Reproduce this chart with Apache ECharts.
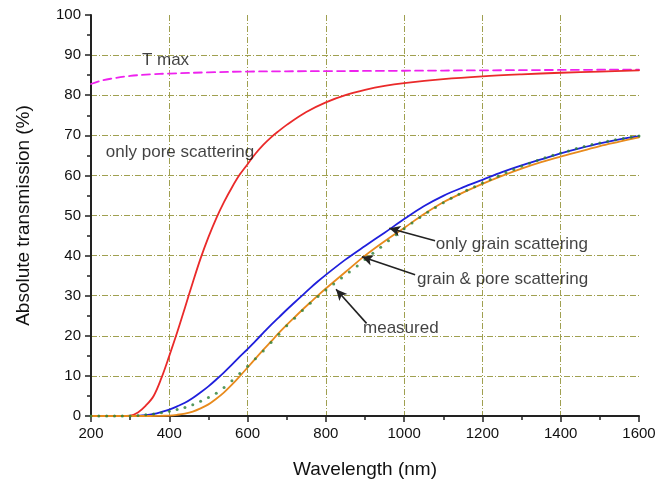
<!DOCTYPE html>
<html>
<head>
<meta charset="utf-8">
<script src="https://cdn.jsdelivr.net/npm/echarts@6/dist/echarts.min.js"></script>
<style>
html,body{margin:0;padding:0;background:#fff;}
#chart{width:672px;height:483px;}
</style>
</head>
<body>
<div id="chart"></div>
<script>
// ---- data ----
const xTicks = [200, 400, 600, 800, 1000, 1200, 1400, 1600];
const yTicks = [0, 10, 20, 30, 40, 50, 60, 70, 80, 90, 100];

const tmaxX = [200, 225, 250, 300, 350, 400, 500, 600, 800, 1000, 1200, 1400, 1600];
const tmaxY = [82.8, 83.6, 84.1, 84.8, 85.2, 85.4, 85.7, 85.9, 86.0, 86.1, 86.2, 86.3, 86.4];

const poreX = [200, 250, 280, 300, 320, 340, 360, 380, 400, 420, 440, 460, 480, 500, 520, 540, 560, 580, 600, 620, 640, 660, 680, 700, 750, 800, 850, 900, 950, 1000, 1100, 1200, 1300, 1400, 1500, 1600];
const poreY = [0, 0, 0, 0.1, 0.9, 2.6, 5.0, 9.5, 15.0, 20.8, 27.0, 33.3, 39.3, 44.6, 49.3, 53.4, 57.0, 60.2, 62.8, 65.4, 67.6, 69.5, 71.1, 72.6, 75.8, 78.2, 80.0, 81.3, 82.3, 83.0, 84.0, 84.7, 85.2, 85.6, 85.9, 86.2];

const grainX = [200, 250, 300, 320, 340, 360, 380, 400, 420, 440, 460, 480, 500, 520, 540, 560, 580, 600, 620, 640, 660, 680, 700, 720, 740, 760, 780, 800, 850, 900, 950, 1000, 1050, 1100, 1150, 1200, 1250, 1300, 1350, 1400, 1450, 1500, 1550, 1600];
const grainY = [0, 0, 0, 0.05, 0.2, 0.5, 1.0, 1.6, 2.4, 3.3, 4.5, 5.9, 7.4, 9.1, 10.9, 12.8, 14.8, 16.7, 18.7, 20.7, 22.7, 24.6, 26.5, 28.3, 30.1, 31.9, 33.6, 35.2, 39.0, 42.4, 45.7, 49.1, 52.3, 54.9, 57.0, 58.9, 60.8, 62.5, 64.0, 65.5, 66.8, 68.0, 69.0, 69.8];

const bothX = [200, 250, 300, 350, 380, 400, 420, 440, 460, 480, 500, 520, 540, 560, 580, 600, 620, 640, 660, 680, 700, 720, 740, 760, 780, 800, 850, 900, 950, 1000, 1050, 1100, 1150, 1200, 1250, 1300, 1350, 1400, 1450, 1500, 1550, 1600];
const bothY = [0, 0, 0, 0, 0.05, 0.1, 0.3, 0.6, 1.1, 1.9, 2.9, 4.3, 5.9, 7.8, 9.9, 12.1, 14.3, 16.5, 18.6, 20.7, 22.7, 24.6, 26.5, 28.3, 30.1, 31.8, 35.9, 40.0, 43.6, 46.9, 50.3, 53.3, 55.7, 57.9, 59.9, 61.7, 63.3, 64.7, 66.0, 67.3, 68.4, 69.5];

const measX = [200, 220, 240, 260, 280, 300, 320, 340, 360, 380, 400, 420, 440, 460, 480, 500, 520, 540, 560, 580, 600, 620, 640, 660, 680, 700, 720, 740, 760, 780, 800, 820, 840, 860, 880, 900, 920, 940, 960, 980, 1000, 1020, 1040, 1060, 1080, 1100, 1120, 1140, 1160, 1180, 1200, 1220, 1240, 1260, 1280, 1300, 1320, 1340, 1360, 1380, 1400, 1420, 1440, 1460, 1480, 1500, 1520, 1540, 1560, 1580, 1600];
const measY = [0, 0, 0, 0, 0, 0, 0.1, 0.3, 0.5, 0.8, 1.2, 1.6, 2.1, 2.8, 3.7, 4.6, 5.7, 7.1, 8.8, 10.6, 12.4, 14.3, 16.2, 18.3, 20.4, 22.5, 24.4, 26.3, 28.1, 29.8, 31.4, 32.9, 34.4, 35.9, 37.4, 39.0, 40.6, 42.1, 43.7, 45.2, 46.7, 48.1, 49.5, 50.8, 52.0, 53.2, 54.3, 55.3, 56.3, 57.2, 58.1, 59.0, 59.8, 60.7, 61.5, 62.3, 63.0, 63.7, 64.4, 65.0, 65.6, 66.1, 66.7, 67.2, 67.7, 68.1, 68.5, 68.9, 69.2, 69.5, 69.8];

const annoText = ['T max', 'only pore scattering', 'only grain scattering', 'grain & pore scattering', 'measured'];
const annoX = [330, 238, 1081, 1033, 895];
const annoY = [88.8, 65.8, 42.9, 34.2, 21.9];

const arrowFrom = [[1079, 43.7], [1028, 35.2], [904, 23.1]];
const arrowTo = [[962, 46.8], [892, 39.7], [826, 31.6]];

// ---- build ----
const zip = (xs, ys) => xs.map((x, i) => [x, ys[i]]);
const FONT = '"Liberation Sans", Arial, sans-serif';
const gridColor = '#a0a050';
const TXT = '#111';

const chart = echarts.init(document.getElementById('chart'), null, {renderer: 'canvas'});

function lineSeries(name, xs, ys, color, width, type) {
  return {
    name: name, type: 'line', data: zip(xs, ys), showSymbol: false, symbol: 'none',
    smooth: 0.35,
    lineStyle: {color: color, width: width, type: type || 'solid', cap: 'round', join: 'round'},
    emphasis: {disabled: true}, silent: true, z: 3
  };
}

const option = {
  backgroundColor: '#ffffff',
  animation: false,
  grid: {left: 91, right: 33, top: 15, bottom: 67, containLabel: false, outerBoundsMode: 'none'},
  xAxis: {
    type: 'value', min: xTicks[0], max: xTicks[xTicks.length - 1], interval: 200,
    name: 'Wavelength (nm)', nameLocation: 'middle', nameGap: 44,
    nameTextStyle: {fontFamily: FONT, fontSize: 19, color: TXT},
    axisLine: {show: true, onZero: false, lineStyle: {color: '#222', width: 2}},
    axisTick: {show: true, inside: false, length: 6, lineStyle: {color: '#222', width: 1.5}},
    minorTick: {show: true, splitNumber: 2, length: 4, lineStyle: {color: '#222', width: 1.5}},
    axisLabel: {fontFamily: FONT, fontSize: 15, color: TXT, margin: 10,
      formatter: v => xTicks.includes(v) ? String(v) : ''},
    splitLine: {show: true, showMinLine: false, showMaxLine: false,
      lineStyle: {color: gridColor, width: 1, type: [6, 2, 1, 2]}}
  },
  yAxis: {
    type: 'value', min: yTicks[0], max: yTicks[yTicks.length - 1], interval: 10,
    name: 'Absolute transmission (%)', nameLocation: 'middle', nameGap: 58,
    nameTextStyle: {fontFamily: FONT, fontSize: 19, color: TXT},
    axisLine: {show: true, onZero: false, lineStyle: {color: '#222', width: 2}},
    axisTick: {show: true, inside: false, length: 6, lineStyle: {color: '#222', width: 1.5}},
    minorTick: {show: true, splitNumber: 2, length: 4, lineStyle: {color: '#222', width: 1.5}},
    axisLabel: {fontFamily: FONT, fontSize: 15, color: TXT, margin: 10,
      formatter: v => yTicks.includes(v) ? String(v) : ''},
    splitLine: {show: true, showMinLine: false, showMaxLine: false,
      lineStyle: {color: gridColor, width: 1, type: [6, 2, 1, 2]}}
  },
  series: [
    lineSeries('T max', tmaxX, tmaxY, '#ee22ee', 1.8, [8, 5]),
    lineSeries('only pore scattering', poreX, poreY, '#ea2a2a', 1.8),
    lineSeries('only grain scattering', grainX, grainY, '#1f1fdc', 1.8),
    lineSeries('grain & pore scattering', bothX, bothY, '#e88a1c', 1.8),
    {
      name: 'measured', type: 'scatter', data: zip(measX, measY),
      symbol: 'circle', symbolSize: 3,
      itemStyle: {color: '#2a7f36'}, silent: true, z: 4
    },
    {
      name: 'annotations', type: 'scatter', silent: true, z: 5,
      symbolSize: 0,
      data: annoText.map((t, i) => ({name: t, value: [annoX[i], annoY[i]]})),
      label: {show: true, position: 'right', distance: 0, formatter: p => p.name,
        fontFamily: FONT, fontSize: 17, color: TXT},
      markLine: {
        silent: true, animation: false,
        symbol: ['none', 'arrow'], symbolSize: [8, 11],
        label: {show: false},
        lineStyle: {color: '#222', width: 1.6, type: 'solid'},
        data: arrowFrom.map((f, i) => [{coord: f}, {coord: arrowTo[i]}])
      }
    }
  ]
};
chart.setOption(option);
</script>
</body>
</html>
